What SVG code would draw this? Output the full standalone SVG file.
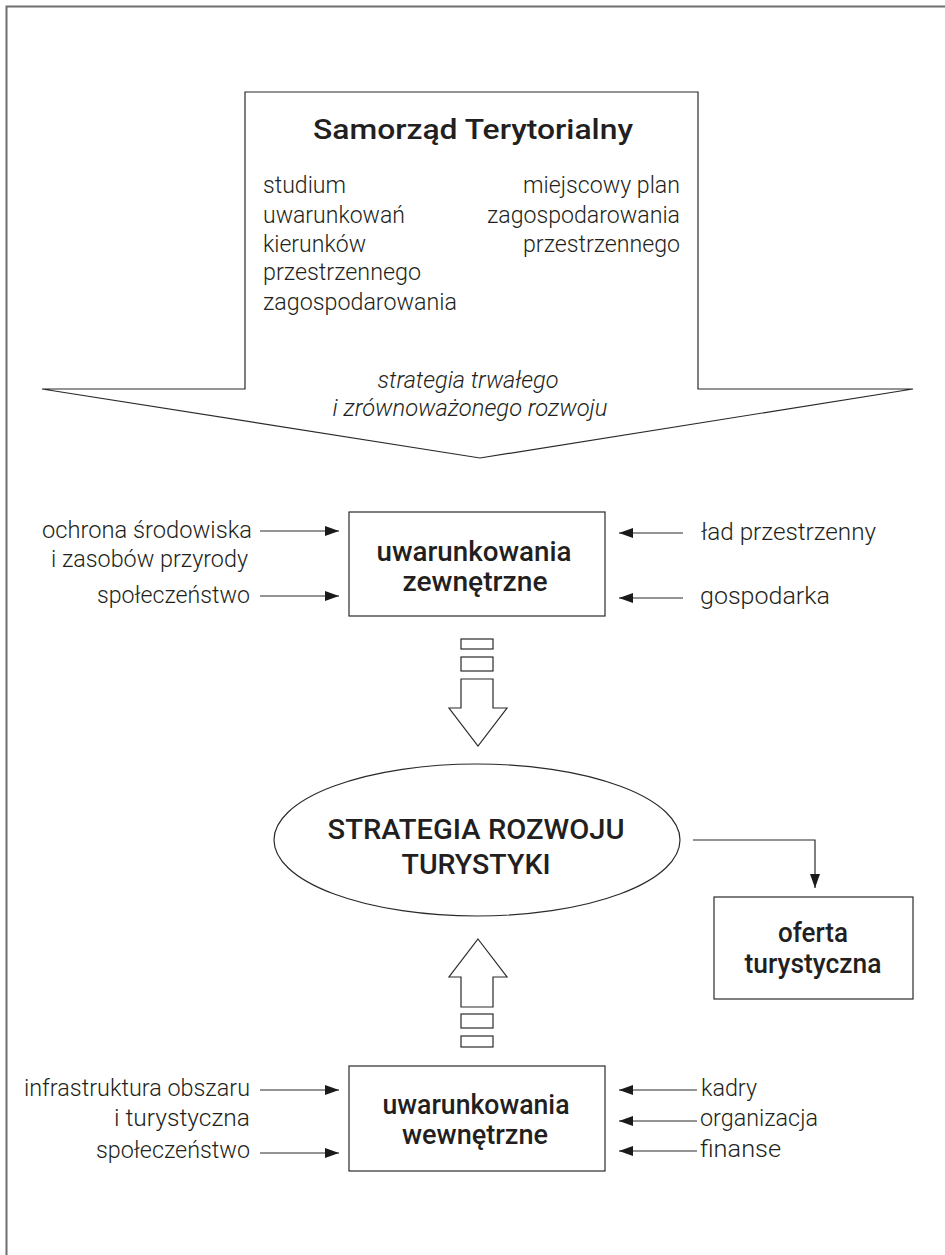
<svg xmlns="http://www.w3.org/2000/svg" width="945" height="1255" viewBox="0 0 945 1255">
<defs>
<style>
.ln{fill:none;stroke:#2a2a2a;stroke-width:1.2}
.sh{fill:#fff;stroke:#2a2a2a;stroke-width:1.2}
.t{font-family:Roboto,"Liberation Sans",sans-serif;font-weight:300;font-size:24.5px;fill:#231f20}
.b{font-family:Roboto,"Liberation Sans",sans-serif;font-weight:500;font-size:28px;fill:#231f20;text-anchor:middle}
.i{font-family:Roboto,"Liberation Sans",sans-serif;font-weight:300;font-style:italic;font-size:24px;fill:#231f20;text-anchor:middle}
.r{text-anchor:end}
</style>
<marker id="ah" viewBox="0 0 14 10" refX="14" refY="5" markerWidth="14" markerHeight="10" markerUnits="userSpaceOnUse" orient="auto">
<path d="M0,0 L14,5 L0,10 Z" fill="#1a1a1a"/>
</marker>
</defs>
<rect width="945" height="1255" fill="#fff"/>
<rect x="6.5" y="6.5" width="1000" height="1300" fill="none" stroke="#6e6e6e" stroke-width="2"/>

<g id="samorzad">
<path class="sh" d="M245,92 H698 V389 H913 L480,458 L42,389 H245 Z"/>
<text class="b" x="473" y="139" font-size="35" textLength="320" lengthAdjust="spacingAndGlyphs">Samorząd Terytorialny</text>
<text class="t" x="263" y="193" textLength="83" lengthAdjust="spacingAndGlyphs">studium</text>
<text class="t" x="263" y="223" textLength="142" lengthAdjust="spacingAndGlyphs">uwarunkowań</text>
<text class="t" x="263" y="252" textLength="103" lengthAdjust="spacingAndGlyphs">kierunków</text>
<text class="t" x="263" y="280" textLength="158" lengthAdjust="spacingAndGlyphs">przestrzennego</text>
<text class="t" x="263" y="310" textLength="194" lengthAdjust="spacingAndGlyphs">zagospodarowania</text>
<text class="t r" x="680" y="193" textLength="157" lengthAdjust="spacingAndGlyphs">miejscowy plan</text>
<text class="t r" x="680" y="223" textLength="193" lengthAdjust="spacingAndGlyphs">zagospodarowania</text>
<text class="t r" x="680" y="252" textLength="157" lengthAdjust="spacingAndGlyphs">przestrzennego</text>
<text class="i" x="468" y="388" textLength="181" lengthAdjust="spacingAndGlyphs">strategia trwałego</text>
<text class="i" x="470" y="416" textLength="275" lengthAdjust="spacingAndGlyphs">i zrównoważonego rozwoju</text>
</g>

<g id="zewnetrzne">
<rect class="sh" x="349" y="512" width="256" height="104"/>
<text class="b" x="474" y="561" textLength="195" lengthAdjust="spacingAndGlyphs">uwarunkowania</text>
<text class="b" x="475" y="591" textLength="145" lengthAdjust="spacingAndGlyphs">zewnętrzne</text>
</g>
<g id="zew-labels">
<text class="t r" x="252" y="538" textLength="210" lengthAdjust="spacingAndGlyphs">ochrona środowiska</text>
<text class="t r" x="248" y="567" textLength="197" lengthAdjust="spacingAndGlyphs">i zasobów przyrody</text>
<text class="t r" x="250" y="603" textLength="153" lengthAdjust="spacingAndGlyphs">społeczeństwo</text>
<text class="t" x="701" y="540" textLength="175" lengthAdjust="spacingAndGlyphs">ład przestrzenny</text>
<text class="t" x="700" y="604" textLength="130" lengthAdjust="spacingAndGlyphs">gospodarka</text>
</g>

<g id="arrow-down">
<rect class="sh" x="461" y="639" width="32" height="10"/>
<rect class="sh" x="461" y="657" width="32" height="14"/>
<path class="sh" d="M461,679 H493 V708 H507 L478,746 L449,708 H461 Z"/>
</g>

<g id="strategia">
<ellipse class="sh" cx="477" cy="840" rx="203" ry="76"/>
<text class="b" x="476" y="839" font-size="31" textLength="297" lengthAdjust="spacingAndGlyphs">STRATEGIA ROZWOJU</text>
<text class="b" x="476" y="874" font-size="31" textLength="149" lengthAdjust="spacingAndGlyphs">TURYSTYKI</text>
</g>

<g id="oferta">
<rect class="sh" x="714" y="897" width="199" height="102"/>
<text class="b" x="813" y="942" textLength="70" lengthAdjust="spacingAndGlyphs">oferta</text>
<text class="b" x="813" y="973" textLength="137" lengthAdjust="spacingAndGlyphs">turystyczna</text>
</g>

<g id="arrow-up">
<path class="sh" d="M478,939 L507,977 H493 V1007 H461 V977 H449 Z"/>
<rect class="sh" x="461" y="1014" width="32" height="14"/>
<rect class="sh" x="461" y="1036" width="32" height="11"/>
</g>

<g id="wewnetrzne">
<rect class="sh" x="349" y="1066" width="256" height="105"/>
<text class="b" x="476" y="1114" textLength="187" lengthAdjust="spacingAndGlyphs">uwarunkowania</text>
<text class="b" x="475" y="1144" textLength="146" lengthAdjust="spacingAndGlyphs">wewnętrzne</text>
</g>
<g id="wew-labels">
<text class="t r" x="250" y="1096" textLength="226" lengthAdjust="spacingAndGlyphs">infrastruktura obszaru</text>
<text class="t r" x="250" y="1126" textLength="136" lengthAdjust="spacingAndGlyphs">i turystyczna</text>
<text class="t r" x="250" y="1158" textLength="154" lengthAdjust="spacingAndGlyphs">społeczeństwo</text>
<text class="t" x="701" y="1096" textLength="56" lengthAdjust="spacingAndGlyphs">kadry</text>
<text class="t" x="700" y="1126" textLength="118" lengthAdjust="spacingAndGlyphs">organizacja</text>
<text class="t" x="700" y="1157" textLength="81" lengthAdjust="spacingAndGlyphs">finanse</text>
</g>

<g id="connectors">
<line class="ln" x1="260" y1="531" x2="339" y2="531" marker-end="url(#ah)"/>
<line class="ln" x1="260" y1="596" x2="339" y2="596" marker-end="url(#ah)"/>
<line class="ln" x1="683" y1="533" x2="619" y2="533" marker-end="url(#ah)"/>
<line class="ln" x1="683" y1="598" x2="619" y2="598" marker-end="url(#ah)"/>
<path class="ln" d="M693,840 H815 V888" marker-end="url(#ah)"/>
<line class="ln" x1="260" y1="1090" x2="339" y2="1090" marker-end="url(#ah)"/>
<line class="ln" x1="260" y1="1153" x2="339" y2="1153" marker-end="url(#ah)"/>
<line class="ln" x1="697" y1="1090" x2="619" y2="1090" marker-end="url(#ah)"/>
<line class="ln" x1="697" y1="1121" x2="619" y2="1121" marker-end="url(#ah)"/>
<line class="ln" x1="697" y1="1151" x2="619" y2="1151" marker-end="url(#ah)"/>
</g>
</svg>
